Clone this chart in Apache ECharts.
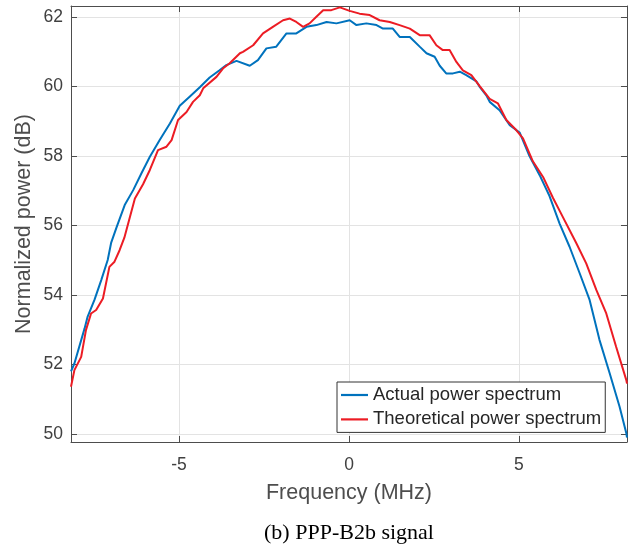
<!DOCTYPE html>
<html>
<head>
<meta charset="utf-8">
<script src="https://cdn.jsdelivr.net/npm/echarts@6/dist/echarts.min.js"></script>
<style>html,body{margin:0;padding:0;background:#fff}#c{width:628px;height:547px}</style>
</head>
<body>
<div id="c"></div>
<script>
const xTicks = [-5, 0, 5];
const yTicks = [50, 52, 54, 56, 58, 60, 62];
const seriesNames = ['Actual power spectrum', 'Theoretical power spectrum'];

const actualFreq = [-8.18, -8.08, -7.78, -7.69, -7.49, -7.29, -7.10, -7.00, -6.84, -6.60, -6.35, -6.11, -5.86, -5.57, -5.27, -4.98, -4.69, -4.39, -4.10, -3.81, -3.61, -3.31, -2.92, -2.68, -2.43, -2.14, -1.84, -1.55, -1.25, -0.96, -0.66, -0.37, 0.02, 0.22, 0.51, 0.81, 1.00, 1.29, 1.49, 1.79, 2.08, 2.28, 2.52, 2.67, 2.86, 3.06, 3.26, 3.45, 3.75, 3.84, 4.04, 4.14, 4.43, 4.73, 5.02, 5.31, 5.61, 5.90, 6.20, 6.49, 6.79, 7.08, 7.37, 7.67, 7.96, 8.16, 8.18];
const actualPower = [51.8, 52.03, 53.04, 53.38, 53.86, 54.43, 55.01, 55.5, 55.95, 56.59, 57.02, 57.5, 57.98, 58.46, 58.94, 59.45, 59.71, 59.98, 60.26, 60.47, 60.62, 60.74, 60.6, 60.76, 61.1, 61.15, 61.53, 61.53, 61.72, 61.77, 61.86, 61.82, 61.91, 61.77, 61.82, 61.77, 61.67, 61.67, 61.43, 61.43, 61.15, 60.96, 60.86, 60.6, 60.38, 60.38, 60.43, 60.33, 60.15, 60.0, 59.75, 59.56, 59.32, 58.89, 58.68, 58.0, 57.45, 56.85, 56.05, 55.39, 54.62, 53.86, 52.71, 51.75, 50.79, 50.02, 49.9];

const theoFreq = [-8.18, -8.08, -7.88, -7.74, -7.59, -7.44, -7.24, -7.05, -6.90, -6.75, -6.61, -6.30, -6.06, -5.86, -5.62, -5.37, -5.22, -5.03, -4.78, -4.59, -4.39, -4.29, -3.90, -3.71, -3.51, -3.21, -3.12, -2.82, -2.53, -2.24, -1.94, -1.74, -1.55, -1.35, -1.16, -0.96, -0.76, -0.52, -0.27, 0.02, 0.31, 0.61, 0.90, 1.20, 1.49, 1.79, 2.08, 2.37, 2.57, 2.76, 2.96, 3.16, 3.35, 3.60, 3.84, 4.14, 4.38, 4.63, 4.92, 5.12, 5.41, 5.71, 6.00, 6.29, 6.69, 6.98, 7.28, 7.57, 7.86, 8.16, 8.18];
const theoPower = [51.36, 51.84, 52.22, 52.99, 53.47, 53.57, 53.9, 54.81, 54.96, 55.29, 55.65, 56.78, 57.19, 57.6, 58.17, 58.27, 58.46, 59.04, 59.27, 59.56, 59.75, 59.95, 60.28, 60.52, 60.67, 60.96, 61.0, 61.19, 61.53, 61.72, 61.91, 61.96, 61.86, 61.72, 61.82, 62.01, 62.2, 62.2, 62.28, 62.18, 62.1, 62.06, 61.91, 61.86, 61.77, 61.67, 61.48, 61.48, 61.19, 61.05, 61.05, 60.71, 60.47, 60.33, 60.02, 59.65, 59.52, 59.04, 58.75, 58.51, 57.85, 57.4, 56.8, 56.25, 55.49, 54.91, 54.14, 53.47, 52.51, 51.55, 51.45];

const pairs = (xs, ys) => xs.map((x, i) => [x, ys[i]]);

const chart = echarts.init(document.getElementById('c'), null, {renderer: 'canvas'});
const axisColor = '#4d4d4d';
const font = 'Liberation Sans, Arial, Helvetica, sans-serif';
const xr = {min: -8.18, max: 8.18};
const yr = {min: 49.77, max: 62.32};

const tickStyle = {show: true, inside: true, length: 6, lineStyle: {color: axisColor, width: 1}};

chart.setOption({
  animation: false,
  backgroundColor: '#fff',
  grid: {left: 71, right: 1, top: 6, bottom: 105, containLabel: false},
  legend: {
    orient: 'vertical',
    left: 337, top: 382,
    data: seriesNames,
    icon: 'path://M0,0L27,0L27,2.2L0,2.2Z',
    itemWidth: 27, itemHeight: 2.2,
    itemGap: 4.4,
    padding: [3, 4, 3, 4],
    borderColor: '#333', borderWidth: 1,
    backgroundColor: '#fff',
    textStyle: {fontFamily: font, fontSize: 18.5, color: '#262626', lineHeight: 20}
  },
  xAxis: [{
    type: 'value', ...xr,
    name: 'Frequency (MHz)', nameLocation: 'middle', nameGap: 40, nameMoveOverlap: false,
    nameTextStyle: {fontFamily: font, fontSize: 21.5, color: '#4d4d4d'},
    axisLine: {show: true, onZero: false, lineStyle: {color: axisColor, width: 1}},
    axisTick: {...tickStyle, customValues: xTicks},
    axisLabel: {customValues: xTicks, fontFamily: font, fontSize: 17.5, color: '#404040', margin: 14},
    splitLine: {show: true, lineStyle: {color: '#e3e3e3', width: 1}}
  }, {
    type: 'value', position: 'top', ...xr,
    axisLine: {show: true, onZero: false, lineStyle: {color: axisColor, width: 1}},
    axisTick: {...tickStyle, customValues: xTicks},
    axisLabel: {show: false, customValues: xTicks},
    splitLine: {show: false}
  }],
  yAxis: [{
    type: 'value', ...yr,
    name: 'Normalized power (dB)', nameLocation: 'middle', nameGap: 36, nameMoveOverlap: false,
    nameTextStyle: {fontFamily: font, fontSize: 21.5, color: '#4d4d4d'},
    axisLine: {show: true, onZero: false, lineStyle: {color: axisColor, width: 1}},
    axisTick: {...tickStyle, customValues: yTicks},
    axisLabel: {customValues: yTicks, fontFamily: font, fontSize: 17.5, color: '#404040', margin: 8},
    splitLine: {show: true, lineStyle: {color: '#e3e3e3', width: 1}}
  }, {
    type: 'value', position: 'right', ...yr,
    axisLine: {show: true, onZero: false, lineStyle: {color: axisColor, width: 1}},
    axisTick: {...tickStyle, customValues: yTicks},
    axisLabel: {show: false, customValues: yTicks},
    splitLine: {show: false}
  }],
  series: [{
    name: seriesNames[0], type: 'line', xAxisIndex: 0, yAxisIndex: 0,
    data: pairs(actualFreq, actualPower),
    symbol: 'none', showSymbol: false, clip: true,
    lineStyle: {color: '#0072BD', width: 2}, itemStyle: {color: '#0072BD'}
  }, {
    name: seriesNames[1], type: 'line', xAxisIndex: 0, yAxisIndex: 0,
    data: pairs(theoFreq, theoPower),
    symbol: 'none', showSymbol: false, clip: true,
    lineStyle: {color: '#EC1C24', width: 2}, itemStyle: {color: '#EC1C24'}
  }],
  graphic: [{
    type: 'text', x: 349, y: 533,
    style: {text: '(b) PPP-B2b signal', font: '22px "Liberation Serif", "Times New Roman", serif', fill: '#000', align: 'center', verticalAlign: 'middle'}
  }]
});
</script>
</body>
</html>
